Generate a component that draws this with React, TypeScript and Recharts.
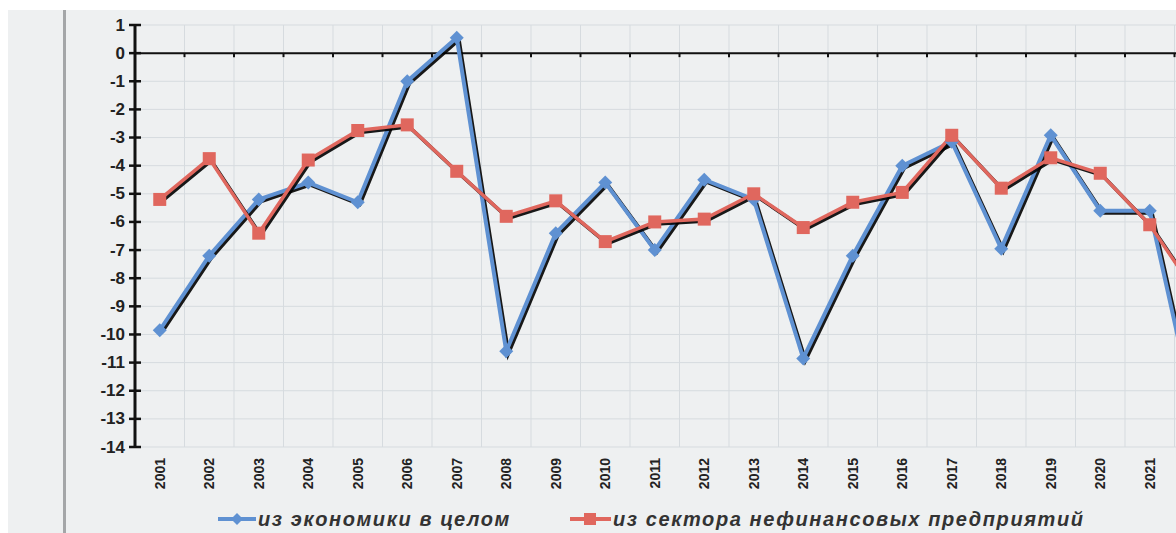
import * as React from "react";
import {
  CartesianGrid,
  Legend,
  Line,
  LineChart,
  ReferenceDot,
  ReferenceLine,
  XAxis,
  YAxis,
} from "recharts";

const YEARS = [
  "2001", "2002", "2003", "2004", "2005", "2006", "2007", "2008", "2009", "2010", "2011",
  "2012", "2013", "2014", "2015", "2016", "2017", "2018", "2019", "2020", "2021", "2022",
];
const ECONOMY = [
  -9.85, -7.2, -5.2, -4.6, -5.3, -1.0, 0.55, -10.6, -6.4, -4.6, -7.0,
  -4.5, -5.2, -10.85, -7.2, -4.0, -3.15, -6.95, -2.92, -5.6, -5.6, -13.5,
];
const NONFIN = [
  -5.2, -3.75, -6.4, -3.8, -2.75, -2.55, -4.2, -5.8, -5.25, -6.7, -6.0,
  -5.9, -5.0, -6.2, -5.3, -4.95, -2.92, -4.8, -3.72, -4.27, -6.1, -8.7,
];
const Y_TICKS = [1, 0, -1, -2, -3, -4, -5, -6, -7, -8, -9, -10, -11, -12, -13, -14];
const LEGEND_ECONOMY = "из экономики в целом";
const LEGEND_NONFIN = "из сектора нефинансовых предприятий";

const BLUE = "#5f91d2";
const RED = "#e0675e";
const FONT = "'Liberation Sans', Arial, sans-serif";

const data = YEARS.map((year, i) => ({
  x: i + 1,
  year,
  economy: ECONOMY[i],
  nonfin: NONFIN[i],
}));
const X_TICKS = data.map((d) => d.x);
const BOUNDARIES = data.map((d) => d.x + 0.5);

function YTick(props: any) {
  const { x, y, payload } = props;
  return (
    <g>
      <line x1={x - 6} x2={x + 6} y1={y} y2={y} stroke="#111" strokeWidth={2.5} />
      <text
        x={x - 10}
        y={y}
        textAnchor="end"
        dominantBaseline="central"
        fontFamily={FONT}
        fontWeight="bold"
        fontSize={17}
        fill="#222"
      >
        {payload.value}
      </text>
    </g>
  );
}

function XTick(props: any) {
  const { x, y, payload } = props;
  const label = YEARS[payload.value - 1] ?? "";
  return (
    <text
      transform={`translate(${x},${y + 11}) rotate(-90)`}
      textAnchor="end"
      dominantBaseline="central"
      fontFamily={FONT}
      fontWeight="bold"
      fontSize={14}
      fill="#222"
    >
      {label}
    </text>
  );
}

function Diamond(props: any) {
  const { cx, cy } = props;
  if (cx == null || cy == null) return null;
  const r = 7;
  return (
    <polygon
      points={`${cx},${cy - r} ${cx + r},${cy} ${cx},${cy + r} ${cx - r},${cy}`}
      fill={BLUE}
    />
  );
}

function Square(props: any) {
  const { cx, cy } = props;
  if (cx == null || cy == null) return null;
  return <rect x={cx - 6.5} y={cy - 6.5} width={13} height={13} fill={RED} />;
}

function ZeroTick(props: any) {
  const { cx, cy } = props;
  if (cx == null || cy == null) return null;
  return <line x1={cx} x2={cx} y1={cy} y2={cy + 4} stroke="#111" strokeWidth={2} />;
}

function LegendContent() {
  const text: React.CSSProperties = {
    fontFamily: FONT,
    fontWeight: "bold",
    fontStyle: "italic",
    fontSize: 20,
    letterSpacing: 1.6,
    color: "#333",
    whiteSpace: "nowrap",
  };
  return (
    <div style={{ display: "flex", alignItems: "center", height: 28, paddingLeft: 210 }}>
      <div style={{ display: "flex", alignItems: "center", width: 352 }}>
        <svg width={40} height={14}>
          <line x1={0} x2={38} y1={7} y2={7} stroke={BLUE} strokeWidth={4} />
          <polygon points="19,1 25,7 19,13 13,7" fill={BLUE} />
        </svg>
        <span style={text}>{LEGEND_ECONOMY}</span>
      </div>
      <div style={{ display: "flex", alignItems: "center" }}>
        <svg width={43} height={14}>
          <line x1={0} x2={41} y1={7} y2={7} stroke={RED} strokeWidth={4} />
          <rect x={14} y={1} width={12} height={12} fill={RED} />
        </svg>
        <span style={text}>{LEGEND_NONFIN}</span>
      </div>
    </div>
  );
}

export default function App() {
  return (
    <div
      style={{
        position: "fixed",
        left: 8,
        top: 10,
        width: 1168,
        height: 523,
        overflow: "hidden",
        background: "#eef0f1",
      }}
    >
      <style>{`html, body { overflow: hidden; }
.shadowed .recharts-line-curve { filter: drop-shadow(2.5px 2.5px 0 rgba(0,0,0,0.9)); }`}</style>
      <div
        style={{
          position: "absolute",
          left: 55,
          top: 0,
          width: 3,
          height: 523,
          background: "#a4a6a8",
        }}
      />
      <LineChart
        width={1260}
        height={523}
        data={data}
        margin={{ top: 15, right: 44, bottom: 0, left: 0 }}
      >
        <XAxis
          xAxisId="grid"
          dataKey="x"
          type="number"
          domain={[0.5, 22.5]}
          ticks={BOUNDARIES}
          hide
        />
        <CartesianGrid xAxisId="grid" stroke="#d6dbdf" strokeWidth={1} />
        <XAxis
          dataKey="x"
          type="number"
          domain={[0.5, 22.5]}
          ticks={X_TICKS}
          interval={0}
          axisLine={false}
          tickLine={false}
          tickSize={0}
          tickMargin={0}
          height={58}
          tick={<XTick />}
        />
        <YAxis
          type="number"
          domain={[-14, 1]}
          ticks={Y_TICKS}
          interval={0}
          width={127}
          axisLine={{ stroke: "#111", strokeWidth: 3 }}
          tickLine={false}
          tickSize={0}
          tickMargin={0}
          tick={<YTick />}
        />
        <ReferenceLine y={0} stroke="#111" strokeWidth={2} />
        {BOUNDARIES.map((b) => (
          <ReferenceDot key={b} x={b} y={0} r={0} shape={<ZeroTick />} />
        ))}
        <Line
          className="shadowed"
          type="linear"
          dataKey="economy"
          stroke={BLUE}
          strokeWidth={4}
          dot={<Diamond />}
          activeDot={false}
          isAnimationActive={false}
        />
        <Line
          className="shadowed"
          type="linear"
          dataKey="nonfin"
          stroke={RED}
          strokeWidth={3.5}
          dot={<Square />}
          activeDot={false}
          isAnimationActive={false}
        />
        <Legend
          verticalAlign="bottom"
          wrapperStyle={{ left: 0, width: 1260 }}
          content={<LegendContent />}
        />
      </LineChart>
    </div>
  );
}
